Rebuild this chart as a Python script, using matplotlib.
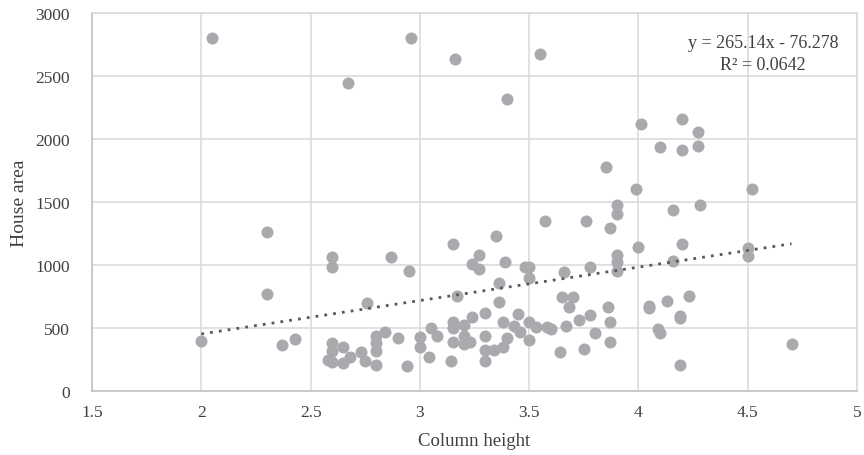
import matplotlib.pyplot as plt

# --- data ---
column_height = [
    2.05, 2.96, 2.67, 3.16, 3.55, 3.40, 4.01, 4.20, 4.27, 4.10,
    4.20, 4.27, 3.85, 3.99, 4.52, 3.90, 4.28, 4.16, 3.90, 3.57,
    3.76, 3.87, 3.15, 3.35, 4.00, 4.20, 4.50, 4.50, 3.27, 3.24,
    3.27, 3.39, 3.48, 3.50, 3.50, 3.66, 3.78, 3.90, 3.90, 3.90,
    4.16, 3.36, 3.17, 3.36, 3.65, 3.70, 3.68, 3.86, 4.05, 4.05,
    4.13, 4.23, 3.24, 3.30, 3.45, 3.15, 3.15, 3.20, 3.38, 3.43,
    3.46, 3.50, 3.53, 3.58, 3.60, 3.67, 3.73, 3.78, 3.87, 3.80,
    3.15, 3.20, 3.23, 3.30, 3.40, 3.50, 3.30, 3.34, 3.38, 3.14,
    3.30, 3.64, 3.75, 3.87, 4.09, 4.10, 4.19, 4.19, 4.19, 4.70,
    2.30, 2.30, 2.60, 2.60, 2.87, 2.95, 2.76, 2.00, 2.37, 2.43,
    2.60, 2.60, 2.65, 2.58, 2.60, 2.65, 2.68, 2.73, 2.75, 2.80,
    2.80, 2.80, 2.80, 2.84, 2.90, 2.94, 3.00, 3.00, 3.05, 3.08,
    3.04, 3.20,
]
house_area = [
    2800, 2800, 2445, 2635, 2675, 2315, 2118, 2160, 2060, 1937,
    1915, 1946, 1779, 1605, 1605, 1478, 1478, 1440, 1403, 1351,
    1351, 1296, 1169, 1232, 1145, 1169, 1137, 1074, 1082, 1010,
    971, 1026, 987, 987, 899, 947, 987, 1082, 1026, 955,
    1034, 860, 755, 708, 744, 744, 668, 668, 678, 662,
    717, 757, 589, 621, 610, 546, 498, 524, 546, 517,
    470, 552, 510, 510, 492, 514, 567, 606, 552, 463,
    393, 375, 390, 441, 420, 405, 330, 330, 350, 242,
    242, 308, 333, 393, 495, 463, 599, 583, 210, 376,
    1265, 772, 1066, 987, 1066, 955, 700, 400, 368, 416,
    381, 322, 349, 251, 230, 225, 270, 314, 243, 437,
    381, 322, 209, 468, 421, 198, 429, 349, 500, 437,
    270, 441,
]

# trendline as reported on the chart
slope = 265.14
intercept = -76.278
r_squared = 0.0642

plt.rcParams['font.family'] = ['Liberation Serif', 'DejaVu Serif']
text_color = '#404040'
grid_color = '#d9d9d9'

fig = plt.figure(figsize=(8.64, 4.56), dpi=100)
ax = fig.add_axes([0.1065, 0.14, 0.8855, 0.829])

ax.scatter(column_height, house_area, s=75, color='#aaaaae', linewidths=0, zorder=3)

x_line = [min(column_height), max(column_height)]
y_line = [slope * x + intercept for x in x_line]
ax.plot(x_line, y_line, color='#595959', linestyle=(0, (1, 2.2)), linewidth=2, zorder=4)

ax.text(4.57, 2680, f'y = {slope}x - {abs(intercept)}\nR² = {r_squared}',
        ha='center', va='center', fontsize=13, color=text_color,
        linespacing=1.4, zorder=5)

ax.set_xlim(1.5, 5)
ax.set_ylim(0, 3000)
ax.set_xticks([1.5, 2, 2.5, 3, 3.5, 4, 4.5, 5])
ax.set_xticklabels(['1.5', '2', '2.5', '3', '3.5', '4', '4.5', '5'])
ax.set_yticks(range(0, 3001, 500))

ax.grid(True, color=grid_color, linewidth=1.1, zorder=0)
ax.set_axisbelow(True)
for side in ['top', 'right']:
    ax.spines[side].set_color(grid_color)
    ax.spines[side].set_linewidth(1.1)
for side in ['left', 'bottom']:
    ax.spines[side].set_color('#bfbfbf')
    ax.spines[side].set_linewidth(1.1)

ax.tick_params(length=0, labelsize=12.5, colors=text_color)
ax.tick_params(axis='y', pad=16)
ax.tick_params(axis='x', pad=9)

ax.set_xlabel('Column height', fontsize=13.5, color=text_color, labelpad=9)
ax.set_ylabel('House area', fontsize=14, color=text_color, labelpad=5)

fig.savefig('out.png', dpi=100)
